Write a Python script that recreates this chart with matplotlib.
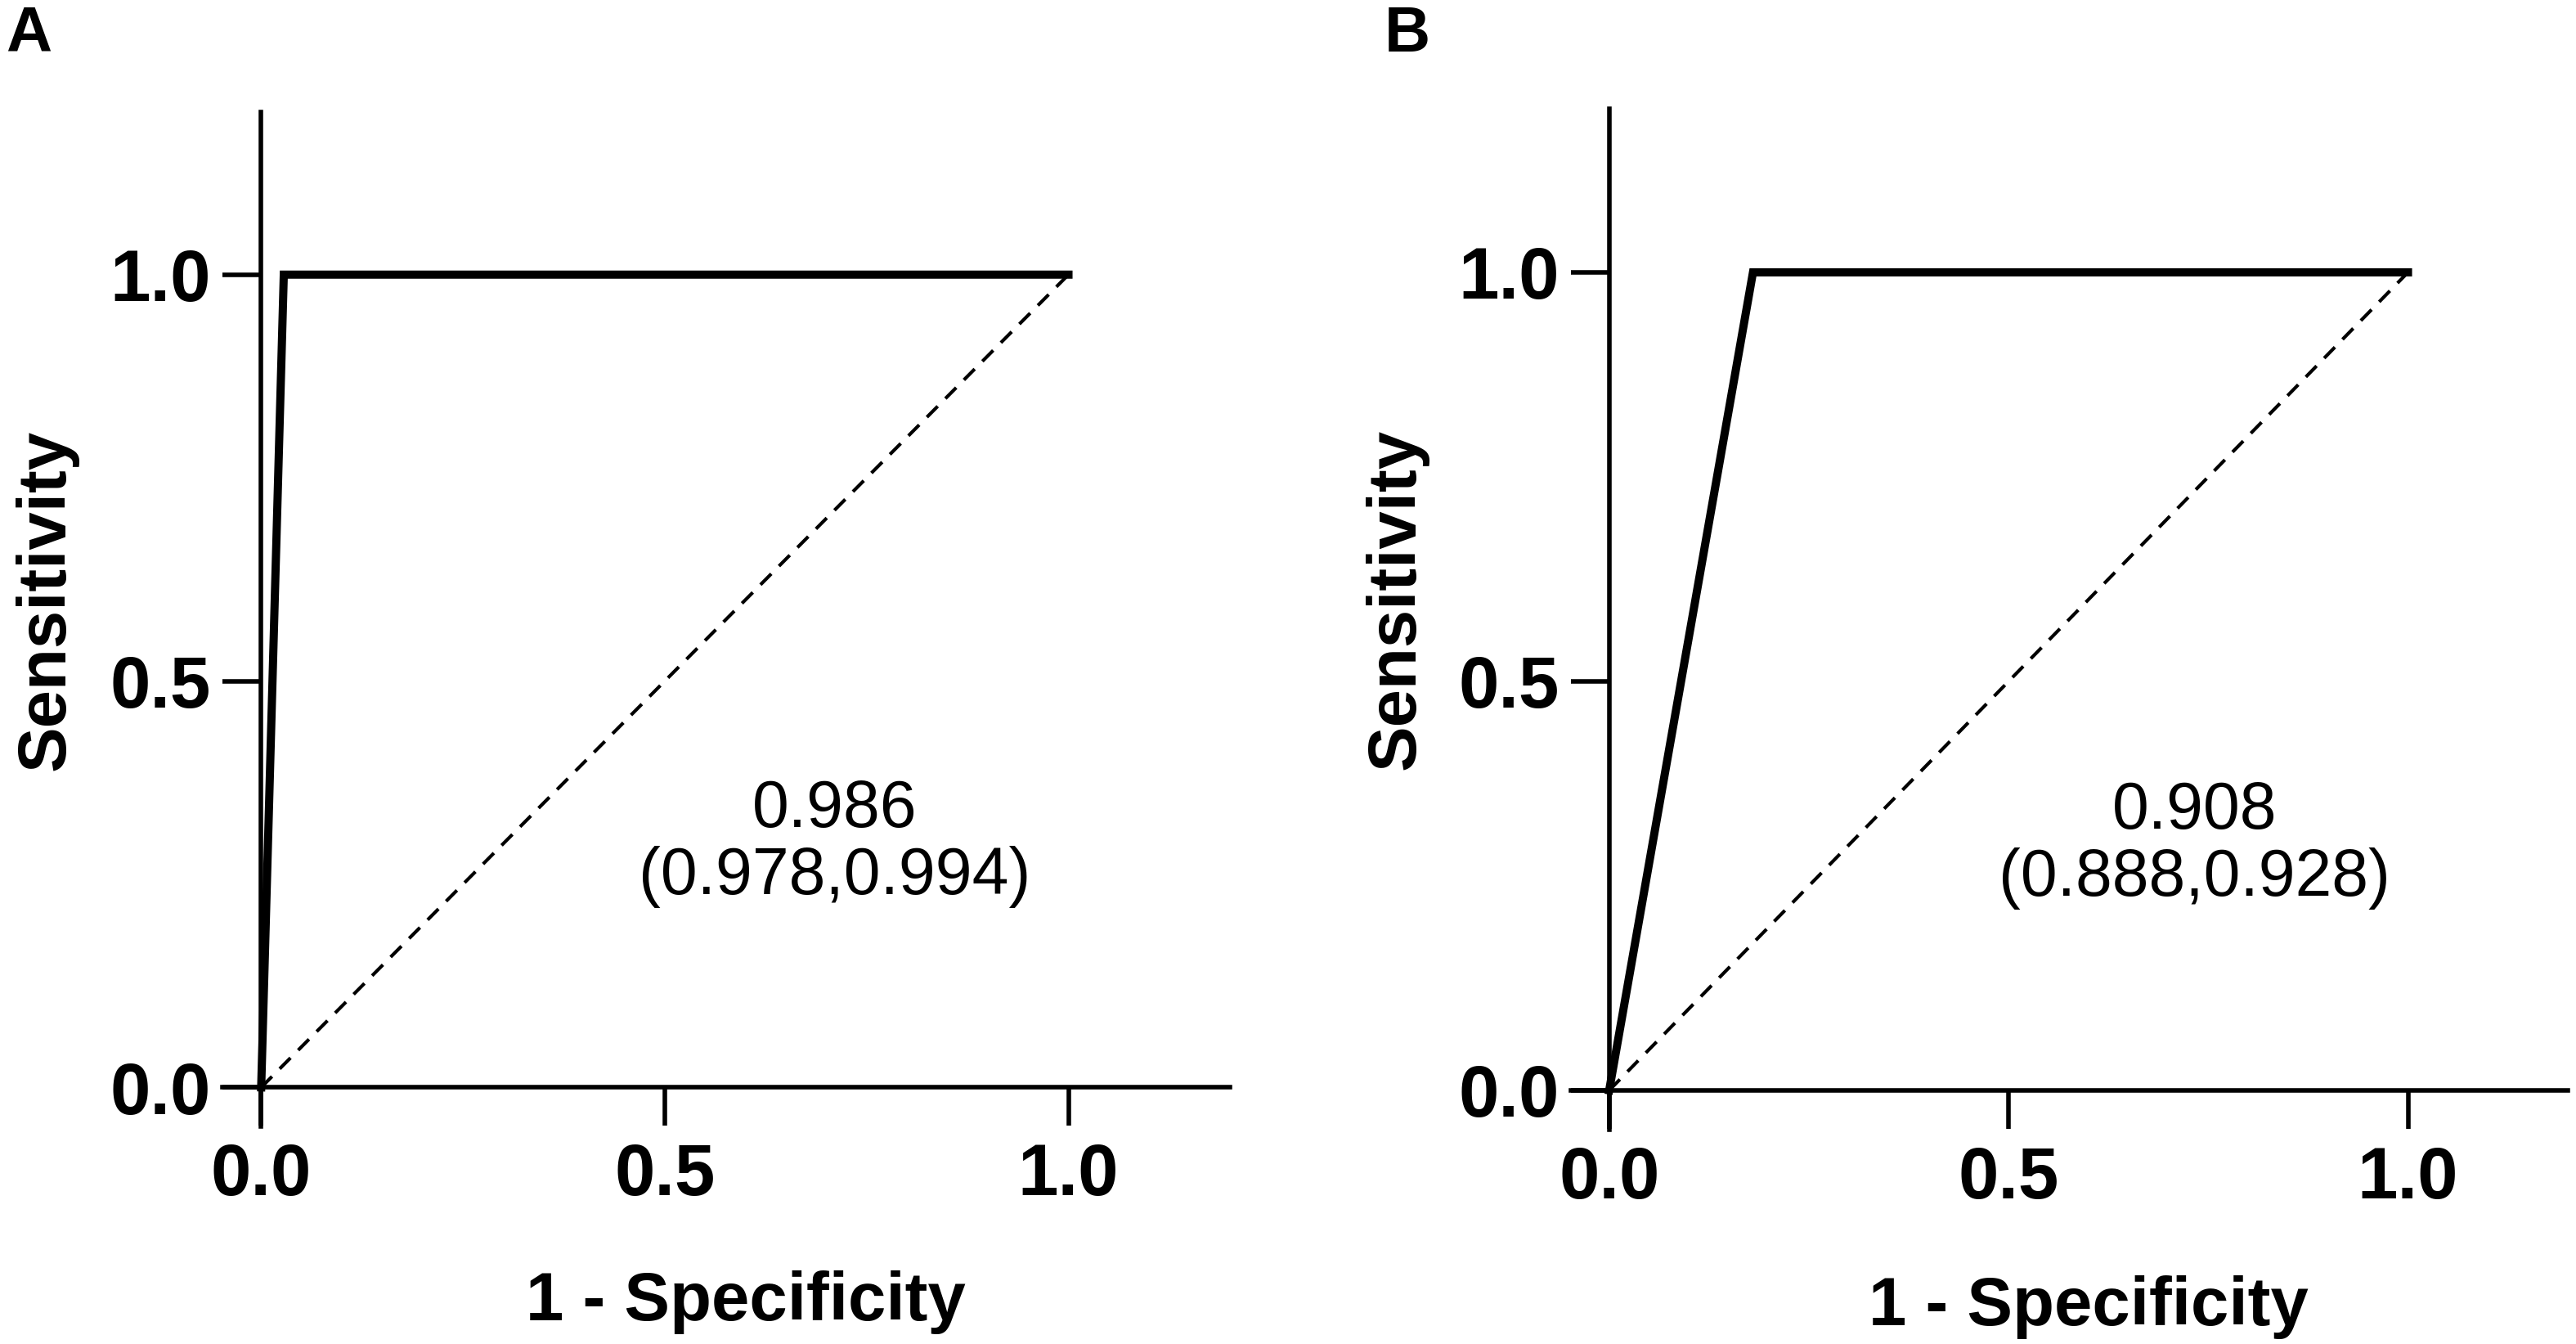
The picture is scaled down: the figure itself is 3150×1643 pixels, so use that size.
import matplotlib
matplotlib.use('Agg')
import matplotlib.pyplot as plt

# ROC curves
fpr_a = [0.0, 0.028, 1.0]
tpr_a = [0.0, 1.0, 1.0]
fpr_b = [0.0, 0.18, 1.0]
tpr_b = [0.0, 1.0, 1.0]

auc_a = '0.986\n(0.978,0.994)'
auc_b = '0.908\n(0.888,0.928)'

ref_line = [0.0, 1.0]
ticks = [0.0, 0.5, 1.0]
tick_labels = ['0.0', '0.5', '1.0']

plt.rcParams['font.family'] = ['Liberation Sans', 'DejaVu Sans']


def draw_roc(ax, fpr, tpr, auc_text, text_x):
    ax.plot(fpr, tpr, color='black', linewidth=3.6, solid_joinstyle='miter',
            solid_capstyle='projecting', clip_on=False, zorder=3)
    ax.plot(ref_line, ref_line, color='black', linewidth=1.5,
            linestyle=(0, (4.5, 3.2)), clip_on=False, zorder=2)

    ax.set_xlim(-0.048, 1.2)
    ax.set_ylim(-0.048, 1.2)
    for side in ['top', 'right']:
        ax.spines[side].set_visible(False)
    for side in ['left', 'bottom']:
        ax.spines[side].set_position(('data', 0))
        ax.spines[side].set_linewidth(2.0)

    ax.set_xticks(ticks)
    ax.set_yticks(ticks)
    ax.set_xticklabels(tick_labels)
    ax.set_yticklabels(tick_labels)
    ax.tick_params(direction='out', length=17, width=2.0, labelsize=32, pad=5)
    ax.tick_params(axis='x', pad=7)
    for lab in ax.get_xticklabels() + ax.get_yticklabels():
        lab.set_fontweight('bold')

    ax.text(0.6, -0.287, '1 - Specificity', ha='center', va='baseline',
            fontsize=30, fontweight='bold', clip_on=False)
    ax.text(-0.244, 0.6, 'Sensitivity', ha='center', va='baseline',
            rotation=90, rotation_mode='anchor', fontsize=30,
            fontweight='bold', clip_on=False)

    ax.text(text_x, 0.30, auc_text, ha='center', va='center', fontsize=29,
            linespacing=1.1)


fig = plt.figure(figsize=(15.75, 8.215), dpi=200)
ax_a = fig.add_axes([0.08635, 0.1619, 0.3911, 0.7547])
ax_b = fig.add_axes([0.6098, 0.1595, 0.387, 0.7596])

draw_roc(ax_a, fpr_a, tpr_a, auc_a, 0.71)
draw_roc(ax_b, fpr_b, tpr_b, auc_b, 0.733)

fig.text(7 / 3150, 1 - 63 / 1643, 'A', fontsize=28, fontweight='bold',
         va='baseline', ha='left')
fig.text(1693 / 3150, 1 - 63 / 1643, 'B', fontsize=28, fontweight='bold',
         va='baseline', ha='left')

fig.savefig('out.png', dpi=200, facecolor='white')
